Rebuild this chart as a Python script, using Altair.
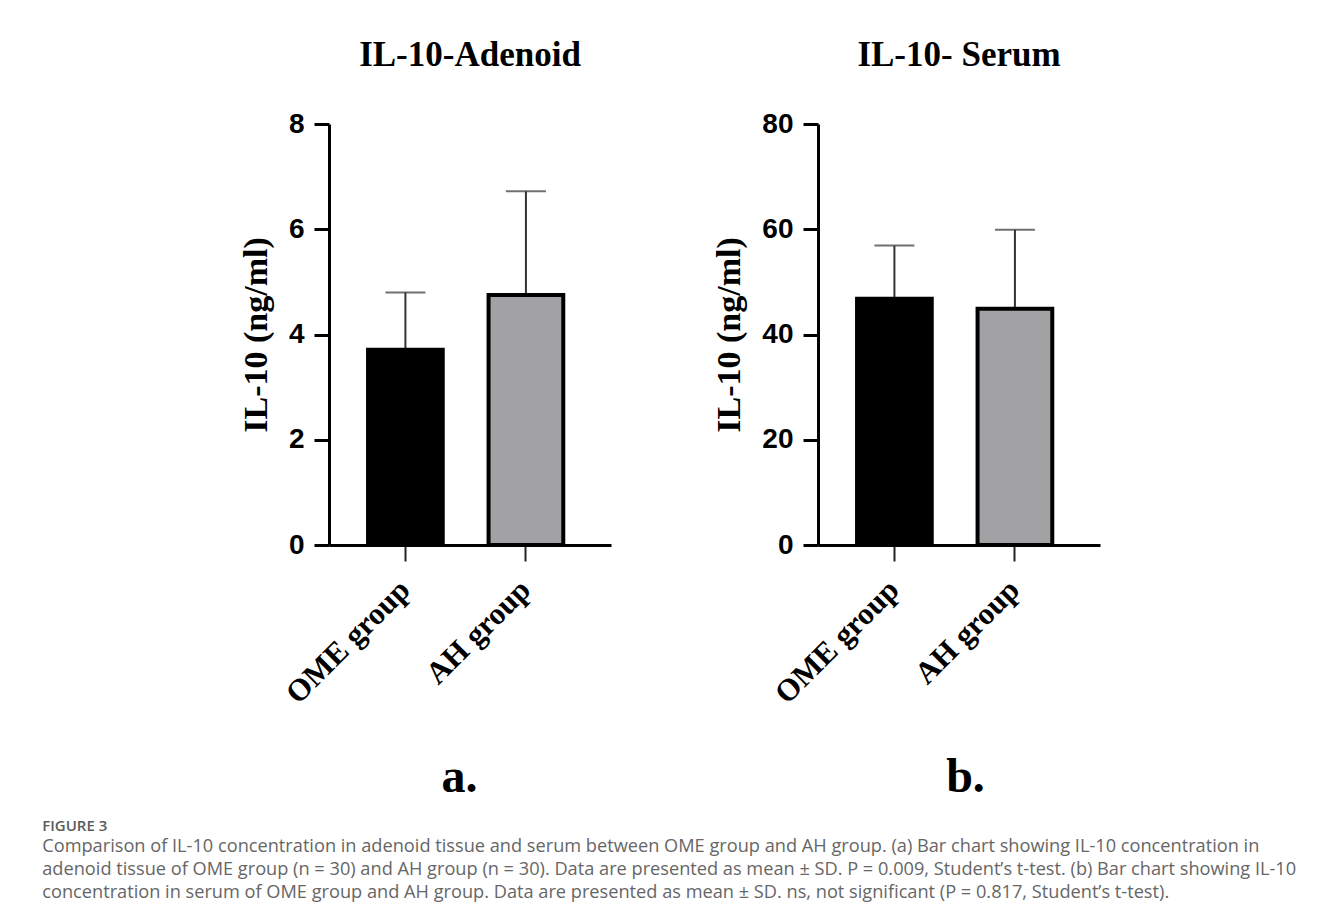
import altair as alt
import pandas as pd

groups = ["OME group", "AH group"]
bar_colors = ["#000000", "#a2a2a4"]

adenoid_mean = [3.71, 4.75]
adenoid_sd = [1.09, 1.97]
serum_mean = [46.8, 44.9]
serum_sd = [10.1, 15.0]

adenoid_ticks = [0, 2, 4, 6, 8]
serum_ticks = [0, 20, 40, 60, 80]

caption_head = "FIGURE 3"
caption_lines = [
    "Comparison of IL-10 concentration in adenoid tissue and serum between OME group and AH group. (a) Bar chart showing IL-10 concentration in",
    "adenoid tissue of OME group (n = 30) and AH group (n = 30). Data are presented as mean \u00b1 SD. P = 0.009, Student\u2019s t-test. (b) Bar chart showing IL-10",
    "concentration in serum of OME group and AH group. Data are presented as mean \u00b1 SD. ns, not significant (P = 0.817, Student\u2019s t-test).",
]

SERIF = "Liberation Serif"
SANS = "Liberation Sans"
W, H = 282, 421


def panel(title, means, sds, ticks, letter, letter_x):
    df = pd.DataFrame({"group": groups, "mean": means, "sd": sds, "color": bar_colors})
    df["upper"] = df["mean"] + df["sd"]
    base = alt.Chart(df)
    xenc = alt.X(
        "group:N",
        sort=groups,
        scale=alt.Scale(paddingInner=0.38, paddingOuter=0.36, align=0.45),
        axis=alt.Axis(
            title=letter,
            titleFont=SERIF,
            titleFontSize=48,
            titleFontWeight="bold",
            titleColor="black",
            titleX=letter_x,
            titleY=246,
            titleBaseline="alphabetic",
            titleAlign="center",
            labelAngle=-45,
            labelAlign="right",
            labelBaseline="middle",
            labelFont=SERIF,
            labelFontWeight="bold",
            labelFontSize=31,
            labelColor="black",
            labelPadding=24,
            labelLimit=400,
            tickSize=16,
            tickWidth=2,
            tickColor="#222222",
            domainColor="black",
            domainWidth=3,
        ),
    )
    yscale = alt.Scale(domain=[ticks[0], ticks[-1]], nice=False)
    yaxis = alt.Axis(
        title="IL-10 (ng/ml)",
        titleFont=SERIF,
        titleFontSize=34,
        titleFontWeight="bold",
        titleColor="black",
        titlePadding=15,
        values=ticks,
        labelFont=SANS,
        labelFontWeight="bold",
        labelFontSize=28,
        labelColor="black",
        labelPadding=10,
        tickSize=15,
        tickWidth=3,
        tickColor="black",
        domainColor="black",
        domainWidth=3,
        grid=False,
    )
    rule = base.mark_rule(color="#333333", strokeWidth=2).encode(
        x=xenc, y=alt.Y("mean:Q", scale=yscale, axis=yaxis), y2="upper:Q"
    )
    cap = base.mark_tick(color="#333333", thickness=2, size=40).encode(
        x=xenc, y=alt.Y("upper:Q", scale=yscale, axis=yaxis)
    )
    bars = base.mark_bar(stroke="black", strokeWidth=4).encode(
        x=xenc,
        y=alt.Y("mean:Q", scale=yscale, axis=yaxis),
        fill=alt.Fill("color:N", scale=None),
    )
    return alt.layer(rule, cap, bars).properties(
        width=W,
        height=H,
        title=alt.TitleParams(
            title,
            font=SERIF,
            fontSize=35,
            fontWeight="bold",
            color="black",
            anchor="middle",
            frame="group",
            baseline="alphabetic",
            offset=9,
        ),
    )


spacer = (
    alt.Chart(pd.DataFrame({"v": [0]}))
    .mark_point(opacity=0)
    .encode(x=alt.value(0), y=alt.value(0))
    .properties(width=93, height=10)
)

left = panel("IL-10-Adenoid", adenoid_mean, adenoid_sd, adenoid_ticks, "a.", 130)
right = panel("IL-10- Serum", serum_mean, serum_sd, serum_ticks, "b.", 147)

chart = (
    alt.hconcat(spacer, left, right, spacing=101)
    .properties(
        background="white",
        padding={"left": 34, "top": 30, "right": 5, "bottom": 5},
        title=alt.TitleParams(
            caption_head,
            subtitle=caption_lines,
            orient="bottom",
            anchor="start",
            font="Open Sans",
            fontSize=15,
            fontWeight=600,
            color="#5a5a5a",
            subtitleFont="Open Sans",
            subtitleFontSize=18.2,
            subtitleColor="#666666",
            subtitleLineHeight=23,
            subtitlePadding=4,
            offset=18,
        ),
    )
    .configure_view(strokeWidth=0, stroke=None)
)

chart.save("out.html", embed_options={"renderer": "svg", "actions": False})
